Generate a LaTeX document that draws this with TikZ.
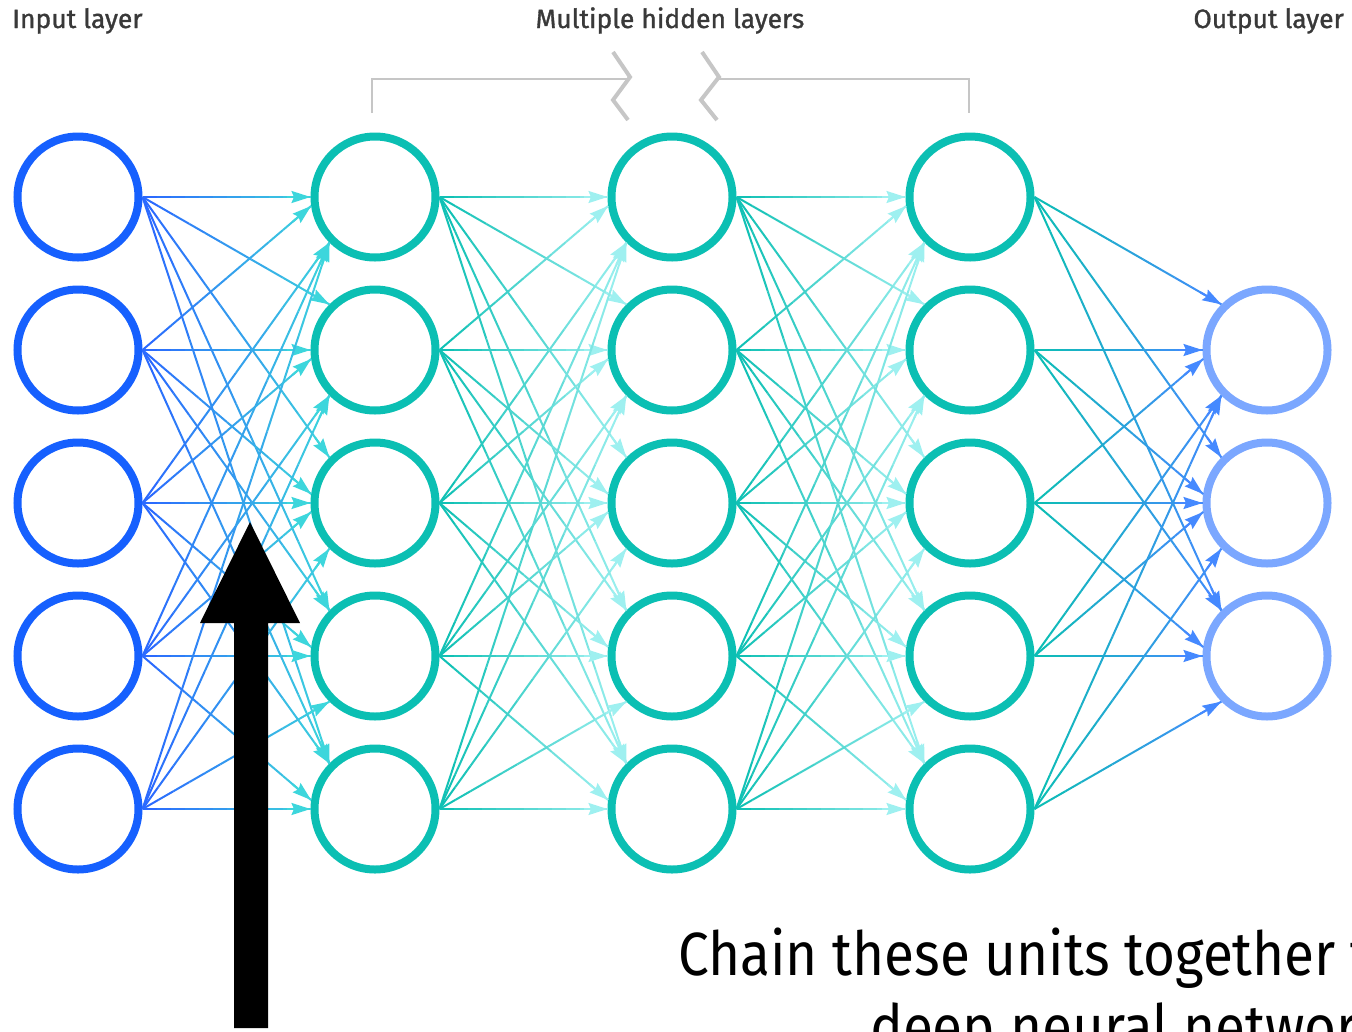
\documentclass[tikz,border=0pt]{standalone}
\usepackage{fontspec}
\setmainfont{Fira Sans}
\newfontfamily\headfont[FakeBold=1.2]{Fira Sans}
\newfontfamily\notefont[FakeStretch=0.9]{Fira Sans}
\usetikzlibrary{arrows.meta,calc}

\definecolor{inblue}{HTML}{1660FE}
\definecolor{hidteal}{HTML}{0BBFB3}
\definecolor{outblue}{HTML}{7BA7FF}
\definecolor{edgeblue}{HTML}{2A66FF}
\definecolor{edgeteal}{HTML}{3DD6DC}
\definecolor{edgeaqua}{HTML}{9EF0F0}
\definecolor{edgeout}{HTML}{4589FF}
\definecolor{bracketgray}{HTML}{C6C6C6}
\definecolor{labelgray}{HTML}{393939}

\tikzset{
  unit/.style={circle, draw, minimum size=121pt, line width=8pt, inner sep=0pt},
  inunit/.style={unit, draw=inblue},
  hidunit/.style={unit, draw=hidteal},
  outunit/.style={unit, draw=outblue},
  layerlabel/.style={font=\headfont\fontsize{26.5}{30}\selectfont, text=labelgray, inner sep=0pt},
  notetext/.style={font=\notefont\fontsize{61}{70}\selectfont, text=black, inner sep=0pt},
  bracketline/.style={draw=bracketgray, line width=2pt},
  breakmark/.style={draw=bracketgray, line width=4pt},
  edgeline/.style={line width=2pt},
  edgetip/.style={line width=2pt, -{Stealth[length=19pt,width=12pt,inset=2.5pt]}},
}

% angle of the anchor where an edge from row #1 enters the unit in row #2
\newcommand\entryangle[2]{%
  \pgfmathtruncatemacro\rowgap{#2-#1}%
  \xdef\tipangle{180}%
  \ifnum\rowgap>0 \xdef\tipangle{135}\fi
  \ifnum\rowgap<0 \xdef\tipangle{225}\fi
  \ifnum#1>1 \ifnum#1<5
    \ifnum\rowgap=1 \xdef\tipangle{172}\fi
    \ifnum\rowgap=-1 \xdef\tipangle{188}\fi
  \fi\fi
}

% edge whose colour runs from #3 to #4
\newcommand\gradedge[4]{%
  \foreach \k in {0,...,11}{%
    \pgfmathsetmacro\ta{\k/12}%
    \pgfmathsetmacro\tb{(\k+1)/12}%
    \pgfmathtruncatemacro\pc{(\k+0.5)/12*100}%
    \draw[edgeline, draw=#4!\pc!#3] ($(#1)!\ta!(#2)$) -- ($(#1)!\tb!(#2)$);
  }%
  \draw[edgetip, draw=#4, fill=#4] ($(#2)!24pt!(#1)$) -- (#2);
}

\begin{document}
\begin{tikzpicture}[x=1pt,y=-1pt]
\useasboundingbox (0,0) rectangle (1352,1031);
\clip (0,0) rectangle (1352,1031);

% units
\foreach \r/\y in {1/197,2/350,3/503,4/656,5/809}{
  \node[inunit]  (i\r) at (78,\y)  {};
  \node[hidunit] (a\r) at (375,\y) {};
  \node[hidunit] (b\r) at (672,\y) {};
  \node[hidunit] (c\r) at (970,\y) {};
}
\foreach \r/\y in {2/350,3/503,4/656}{
  \node[outunit] (o\r) at (1267,\y) {};
}

% connections
\foreach \s in {1,...,5}{
  \foreach \t in {1,...,5}{
    \entryangle{\s}{\t}
    \gradedge{i\s.0}{a\t.\tipangle}{edgeblue}{edgeteal}
    \gradedge{a\s.0}{b\t.\tipangle}{hidteal}{edgeaqua}
    \gradedge{b\s.0}{c\t.\tipangle}{hidteal}{edgeaqua}
  }
  \foreach \t in {2,3,4}{
    \entryangle{\s}{\t}
    \gradedge{c\s.0}{o\t.\tipangle}{hidteal}{edgeout}
  }
}

% layer titles
\node[layerlabel, anchor=base west] (tin)  at (12,28)   {Input layer};
\node[layerlabel, anchor=base]      (thid) at (670,28)  {Multiple hidden layers};
\node[layerlabel, anchor=base east] (tout) at (1344,28) {Output layer};

% bracket over the hidden layers, broken in the middle
\draw[bracketline] (372,113) -- (372,79) -- (629,79);
\draw[breakmark] (613,52) -- (630,77) -- (613,100) -- (628,120);
\draw[breakmark] (702,52) -- (719,77) -- (701,100) -- (717,120);
\draw[bracketline] (719,79) -- (969,79) -- (969,113);

% big pointer
\fill[black] (234,1028) -- (234,623) -- (200,623) -- (250,522)
  -- (300,623) -- (268,623) -- (268,1028) -- cycle;

% note, running past the right and bottom edges
\node[notetext, anchor=base west] (note1) at (678,975)  {Chain these units together to};
\node[notetext, anchor=base west] (note2) at (870,1048) {deep neural network};
\end{tikzpicture}
\end{document}
